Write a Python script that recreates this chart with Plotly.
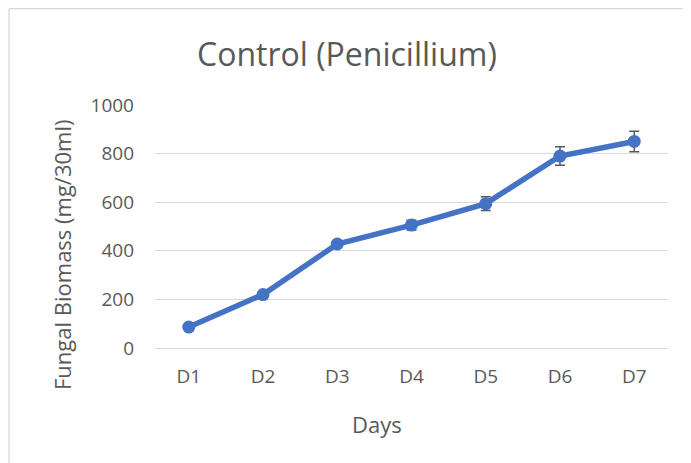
import plotly.graph_objects as go

days = ["D1", "D2", "D3", "D4", "D5", "D6", "D7"]
biomass = [86, 220, 428, 506, 594, 790, 850]
errors = [8, 10, 12, 20, 28, 38, 42]

# the page adds an 8px body margin, so the figure is 8px smaller
W, H = 683, 455
L, R, T, B = 147, 23, 97, 115
pw, ph = W - L - R, H - T - B


def px(x):
    # page pixel -> paper x
    return (x - 8 - L) / pw


def py(y):
    # page pixel -> paper y
    return (H - B - (y - 8)) / ph


fig = go.Figure(
    go.Scatter(
        x=days,
        y=biomass,
        mode="lines+markers",
        line=dict(color="#4472C4", width=5.5),
        marker=dict(color="#4472C4", size=13),
        error_y=dict(type="data", array=errors, color="#595959", thickness=1.5, width=5),
    )
)

font = "Open Sans, DejaVu Sans, sans-serif"
grey = "#595959"
fig.update_layout(
    width=W,
    height=H,
    margin=dict(l=L, r=R, t=T, b=B),
    paper_bgcolor="white",
    plot_bgcolor="white",
    showlegend=False,
    font=dict(family=font, color=grey, size=19),
    xaxis=dict(
        showgrid=False,
        showline=False,
        ticks="",
        ticklabelstandoff=15,
        tickfont=dict(size=19),
    ),
    yaxis=dict(
        range=[0, 1000],
        dtick=200,
        showgrid=True,
        gridcolor="#d9d9d9",
        gridwidth=1.3,
        zeroline=True,
        zerolinecolor="#d9d9d9",
        zerolinewidth=1.3,
        showline=False,
        ticks="",
        ticklabelstandoff=20,
        tickfont=dict(size=19),
    ),
    annotations=[
        dict(text="Control (Penicillium)", xref="paper", yref="paper",
             x=px(347), y=py(54), xanchor="center", yanchor="middle",
             showarrow=False, font=dict(size=32, color=grey)),
        dict(text="Fungal Biomass (mg/30ml)", xref="paper", yref="paper",
             x=px(62), y=py(255), xanchor="center", yanchor="middle", textangle=-90,
             showarrow=False, font=dict(size=22, color=grey)),
        dict(text="Days", xref="paper", yref="paper",
             x=px(377), y=py(424), xanchor="center", yanchor="middle",
             showarrow=False, font=dict(size=22, color=grey)),
    ],
    shapes=[
        dict(type="line", xref="paper", yref="paper",
             x0=px(9), x1=px(9), y0=-1, y1=py(8.7),
             line=dict(color="#d9d9d9", width=1.3)),
        dict(type="line", xref="paper", yref="paper",
             x0=px(9), x1=1.5, y0=py(8.7), y1=py(8.7),
             line=dict(color="#d9d9d9", width=1.3)),
    ],
)

fig.write_html("out.html")
